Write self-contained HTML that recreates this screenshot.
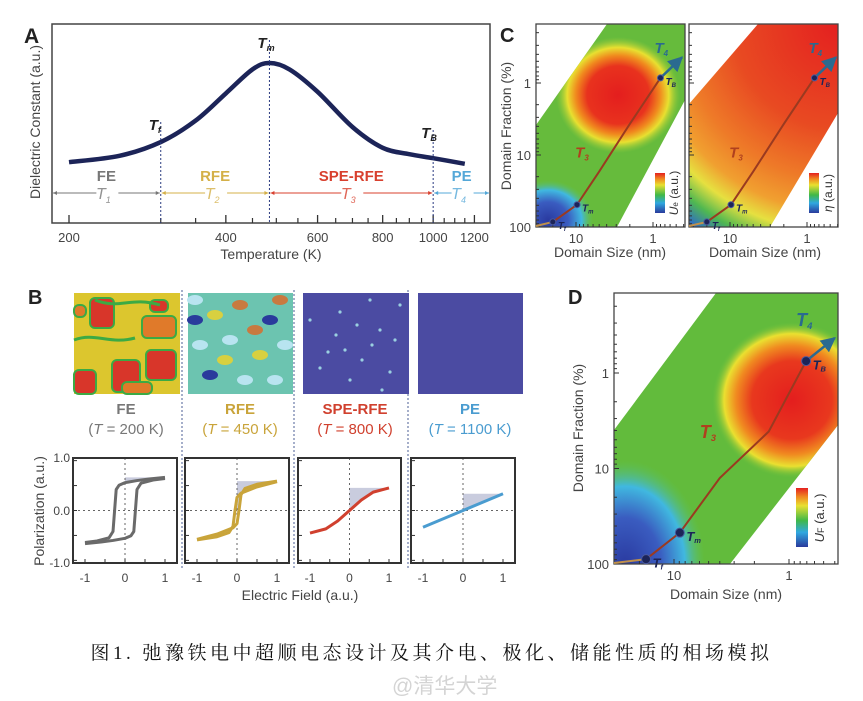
<!DOCTYPE html>
<html><head><meta charset="utf-8">
<style>
body{margin:0;background:#fff;width:863px;height:701px;overflow:hidden;position:relative;font-family:"Liberation Sans","Noto Sans CJK SC",sans-serif}
svg{position:absolute;left:0;top:0}
text{font-family:"Liberation Sans","Noto Sans CJK SC",sans-serif}
.cap{position:absolute;left:0;width:863px;top:638px;text-align:center;font-family:"Liberation Serif","Noto Serif CJK SC",serif;font-size:19px;letter-spacing:3.5px;color:#111}
.wm{position:absolute;left:392px;top:670px;font-size:21px;color:#d4d4d4;font-family:"Liberation Sans","Noto Sans CJK SC",sans-serif}
</style></head><body>
<svg id="fig" width="863" height="701" viewBox="0 0 863 701">
<defs>
<radialGradient id="gC1" cx="0.5" cy="0.5" r="0.5">
<stop offset="0" stop-color="#e41e1e"/><stop offset="0.5" stop-color="#e8321e"/><stop offset="0.68" stop-color="#f08a1e"/><stop offset="0.82" stop-color="#e8e030"/><stop offset="1" stop-color="#9acb3a" stop-opacity="0"/></radialGradient>
<radialGradient id="gBlue" cx="0.5" cy="0.5" r="0.5">
<stop offset="0" stop-color="#2a3aa0"/><stop offset="0.45" stop-color="#3a5cc0"/><stop offset="0.75" stop-color="#40b8e0"/><stop offset="1" stop-color="#5cc060" stop-opacity="0"/></radialGradient>
<radialGradient id="gC2" gradientUnits="userSpaceOnUse" cx="838" cy="24" r="260">
<stop offset="0" stop-color="#e42020"/><stop offset="0.4" stop-color="#e84a22"/><stop offset="0.6" stop-color="#ee7a28"/><stop offset="0.72" stop-color="#f0a030"/><stop offset="0.8" stop-color="#e6e040"/><stop offset="0.88" stop-color="#50b850"/><stop offset="0.95" stop-color="#3070c0"/><stop offset="1" stop-color="#2a3a9c"/></radialGradient>
<radialGradient id="gD" cx="0.5" cy="0.5" r="0.5">
<stop offset="0" stop-color="#e41e1e"/><stop offset="0.5" stop-color="#e8381e"/><stop offset="0.7" stop-color="#f08a20"/><stop offset="0.85" stop-color="#eae030"/><stop offset="1" stop-color="#6cbf3c" stop-opacity="0"/></radialGradient>
<linearGradient id="cbar" x1="0" y1="1" x2="0" y2="0">
<stop offset="0" stop-color="#2a3a9c"/><stop offset="0.25" stop-color="#30a8e0"/><stop offset="0.45" stop-color="#40b848"/><stop offset="0.7" stop-color="#e8e030"/><stop offset="0.85" stop-color="#f08a20"/><stop offset="1" stop-color="#e42020"/></linearGradient>
<clipPath id="clipC1"><polygon points="536,125 607,24 685,24 685,100 617,227 536,227"/></clipPath>
<clipPath id="clipC2"><polygon points="689,104 758,24 838,24 838,113 770,227 689,227"/></clipPath>
<clipPath id="clipD"><polygon points="614,430 716,293 838,293 838,425 730,564 614,564"/></clipPath>
<marker id="ah" viewBox="0 0 10 10" refX="9" refY="5" markerWidth="6" markerHeight="6" orient="auto"><path d="M0,0L10,5L0,10z" fill="#2a6a90"/></marker>
</defs>

<!-- PANEL A -->
<g>
<text x="24" y="43" font-size="21" font-weight="bold" fill="#222">A</text>
<rect x="52" y="24" width="438" height="199" fill="none" stroke="#444" stroke-width="1.5"/>
<g id="aTicks"></g>
<path id="aCurve" fill="none" stroke="#1c2458" stroke-width="4.5"/>
<g id="aLines"></g>
<text x="271" y="259" font-size="14" fill="#444" text-anchor="middle">Temperature (K)</text>
<text transform="translate(40,122) rotate(-90)" font-size="14" fill="#444" text-anchor="middle">Dielectric Constant (a.u.)</text>
</g>

<!-- PANEL B -->
<g>
<text x="28" y="304" font-size="20" font-weight="bold" fill="#222">B</text>
<g id="bSep"></g>
<g id="bImgs"></g>
<g id="bPlots"></g>
<text x="300" y="600" font-size="14" fill="#444" text-anchor="middle">Electric Field (a.u.)</text>
<text transform="translate(44,511) rotate(-90)" font-size="14" fill="#444" text-anchor="middle">Polarization (a.u.)</text>
</g>

<!-- PANEL C -->
<g>
<text x="500" y="42" font-size="20" font-weight="bold" fill="#222">C</text>
<g clip-path="url(#clipC1)">
<rect x="536" y="24" width="149" height="203" fill="#66bb3c"/>
<ellipse cx="618" cy="95" rx="62" ry="58" fill="url(#gC1)"/>
<ellipse cx="548" cy="220" rx="45" ry="40" fill="url(#gBlue)"/>
</g>
<g clip-path="url(#clipC2)">
<rect x="689" y="24" width="149" height="203" fill="url(#gC2)"/>
</g>
<rect x="536" y="24" width="149" height="203" fill="none" stroke="#444" stroke-width="1.3"/>
<rect x="689" y="24" width="149" height="203" fill="none" stroke="#444" stroke-width="1.3"/>
<rect x="655" y="173" width="10" height="40" fill="url(#cbar)"/>
<rect x="809" y="173" width="10" height="40" fill="url(#cbar)"/>
<text transform="translate(678,193) rotate(-90)" font-size="12" fill="#333" text-anchor="middle"><tspan font-style="italic">U</tspan><tspan font-size="8">e</tspan> (a.u.)</text>
<text transform="translate(832,193) rotate(-90)" font-size="12" fill="#333" text-anchor="middle"><tspan font-style="italic">η</tspan> (a.u.)</text>
<g id="cAxes"></g>
<text x="610" y="257" font-size="14" fill="#444" text-anchor="middle">Domain Size (nm)</text>
<text x="765" y="257" font-size="14" fill="#444" text-anchor="middle">Domain Size (nm)</text>
<text transform="translate(511,126) rotate(-90)" font-size="14" fill="#444" text-anchor="middle">Domain Fraction (%)</text>
</g>

<!-- PANEL D -->
<g>
<text x="568" y="304" font-size="20" font-weight="bold" fill="#222">D</text>
<g clip-path="url(#clipD)">
<rect x="614" y="293" width="224" height="271" fill="#62bb3c"/>
<ellipse cx="792" cy="400" rx="80" ry="78" fill="url(#gD)"/>
<ellipse cx="625" cy="565" rx="80" ry="105" fill="url(#gBlue)"/>
</g>
<rect x="614" y="293" width="224" height="271" fill="none" stroke="#444" stroke-width="1.3"/>
<rect x="796" y="488" width="12" height="59" fill="url(#cbar)"/>
<text transform="translate(824,518) rotate(-90)" font-size="13" fill="#333" text-anchor="middle"><tspan font-style="italic">U</tspan><tspan font-size="9">F</tspan> (a.u.)</text>
<g id="dAxes"></g>
<text x="726" y="599" font-size="14" fill="#444" text-anchor="middle">Domain Size (nm)</text>
<text transform="translate(583,428) rotate(-90)" font-size="14" fill="#444" text-anchor="middle">Domain Fraction (%)</text>
</g>
</svg>
<div class="cap">图1. 弛豫铁电中超顺电态设计及其介电、极化、储能性质的相场模拟</div>
<div class="wm">@清华大学</div>

<script>
// ---- Panel A data ----
const aTemps = [200,250,300,350,400,450,485,530,600,700,800,900,1000,1150];
const aDielectric = [38,42,50.6,64,81,96,100,96,82,60,47,43,40.5,37];
const aTickMajor = [200,400,600,800,1000,1200];
const aTickMinor = [300,350,450,500,550,650,700,750,850,900,950,1050,1100,1150];
const aPhaseTemps = [300,485,1000];
const aPhaseLabels = ['FE','RFE','SPE-RFE','PE'];
const aPhaseSubs = ['1','2','3','4'];
const aPhaseColors = ['#777777','#d4b048','#d8402e','#55a8d8'];
const aMarkNames = ['f','m','B'];
// ---- Panel B data ----
const bPanels = ['FE','RFE','SPE-RFE','PE'];
const bTempsK = [200,450,800,1100];
const bColors = ['#6a6a6a','#c9a43a','#d0402e','#4a9cd0'];
const feE = [1,0.6,0.3,0,-0.15,-0.22,-0.26,-0.3,-0.4,-0.7,-1];
const feP = [0.63,0.6,0.57,0.53,0.48,0.4,0,-0.4,-0.52,-0.58,-0.61];
const rfeE = [1,0.5,0.2,0.1,0.05,0,-0.1,-0.5,-1];
const rfeP = [0.56,0.5,0.42,0.3,0,-0.25,-0.33,-0.45,-0.55];
const speE = [-1,-0.6,-0.3,0,0.3,0.6,1];
const speP = [-0.43,-0.35,-0.2,0,0.2,0.35,0.43];
const peE = [-1,0,1];
const peP = [-0.32,0,0.32];
const bYTicks = ['1.0','0.0','-1.0'];
const bXTicks = ['-1','0','1'];
// ---- Panel C/D data (domain size nm, fraction %) ----
const cPathSize = [20,9.7,5,2,0.8,0.42];
const cPathFrac = [85,49,17,3.7,0.85,0.44];
const dPathSize = [17.5,8.9,4,1.5,0.71,0.4];
const dPathFrac = [89,47,12.6,4.1,0.75,0.43];
const logTickLabels = ['1','10','100'];

const NS='http://www.w3.org/2000/svg';
function mk(tag,attrs,parent,txt){const e=document.createElementNS(NS,tag);for(const k in attrs)e.setAttribute(k,attrs[k]);if(txt!==undefined)e.textContent=txt;parent.appendChild(e);return e;}

const ax=T=>69+521*Math.log10(T/200);
const ay=v=>223-v*1.6;
(function(){
 const g=document.getElementById('aTicks');
 aTickMajor.forEach(t=>{
  const l=mk('line',{x1:ax(t),x2:ax(t),y1:223,y2:215,stroke:'#333','stroke-width':1.3},g);
  
  
  const tx=mk('text',{x:ax(t),y:242,'font-size':13,fill:'#444','text-anchor':'middle'},g,String(t));
  
  
 });
 aTickMinor.forEach(t=>{
  const l=mk('line',{x1:ax(t),x2:ax(t),y1:223,y2:218,stroke:'#333','stroke-width':1.2},g);
  
  
 });
 const pts=aTemps.map((t,i)=>[ax(t),ay(aDielectric[i])]);
 let d='M'+pts[0][0]+','+pts[0][1];
 for(let i=0;i<pts.length-1;i++){
  const p0=pts[Math.max(0,i-1)],p1=pts[i],p2=pts[i+1],p3=pts[Math.min(pts.length-1,i+2)];
  d+=` C${p1[0]+(p2[0]-p0[0])/6},${p1[1]+(p2[1]-p0[1])/6} ${p2[0]-(p3[0]-p1[0])/6},${p2[1]-(p3[1]-p1[1])/6} ${p2[0]},${p2[1]}`;
 }
 document.getElementById('aCurve').setAttribute('d',d);
 const gl=document.getElementById('aLines');
 const tops=[122,40,130];
 aPhaseTemps.forEach((t,i)=>{
  const l=mk('line',{x1:ax(t),x2:ax(t),y1:tops[i],y2:223,stroke:'#2a3a80','stroke-width':1,'stroke-dasharray':'2,2'},gl);
  
  
  const tx=mk('text',{x:ax(t)-12,y:tops[i]+8,'font-size':15,'font-weight':'bold','font-style':'italic',fill:'#222'},gl);
  
  
  mk('tspan',{},tx,'T');mk('tspan',{'font-size':9,dy:3},tx,aMarkNames[i]);
 });
 const bounds=[ax(200)-17,ax(300),ax(485),ax(1000),490];
 for(let i=0;i<4;i++){
  const x1=bounds[i]+1,x2=bounds[i+1]-1,cx=(x1+x2)/2,c=aPhaseColors[i];
  const ln=mk('line',{x1:x1,x2:cx-10,y1:193,y2:193,stroke:c,'stroke-width':1},gl);
  
  
  mk('line',{x1:cx+12,x2:x2,y1:193,y2:193,stroke:c,'stroke-width':1},gl);
  mk('path',{d:`M${x1},193 l4,-2 v4z M${x2},193 l-4,-2 v4z`,fill:c},gl);
  const lb=mk('text',{x:cx,y:181,'font-size':15,'font-weight':'bold',fill:c,'text-anchor':'middle'},gl,aPhaseLabels[i]);
  
  
  const st=mk('text',{x:cx-3,y:199,'font-size':16,'font-style':'italic',fill:c,'text-anchor':'middle',opacity:0.8},gl);
  
  
  mk('tspan',{},st,'T');mk('tspan',{'font-size':9,dy:4},st,aPhaseSubs[i]);
 }
})();

(function(){
 const sep=document.getElementById('bSep');
 [182,294,408].forEach(x=>{
  const l=mk('line',{x1:x,x2:x,y1:290,y2:570,stroke:'#6a7aa8','stroke-width':1.2,'stroke-dasharray':'2,2'},sep);
  
  
 });
 const gi=document.getElementById('bImgs');
 const fe=mk('g',{},gi);
 
 
 mk('rect',{x:74,y:293,width:106,height:101,fill:'#dcc62e'},fe);
 [[90,298,24,30,'#d8362a'],[74,305,12,12,'#e07a2a'],[142,316,34,22,'#e07a2a'],[146,350,30,30,'#d8362a'],[74,370,22,24,'#d8362a'],[112,360,28,32,'#d8362a'],[150,300,18,12,'#d8362a'],[122,382,30,12,'#e07a2a']].forEach(r=>mk('rect',{x:r[0],y:r[1],width:r[2],height:r[3],rx:5,fill:r[4],stroke:'#3caa44','stroke-width':2},fe));
 mk('path',{d:'M74,340 C95,332 110,345 135,338 M95,300 C120,310 130,296 160,305',stroke:'#3caa44','stroke-width':3,fill:'none'},fe);
 const rf=mk('g',{},gi);
 
 
 mk('rect',{x:188,y:293,width:105,height:101,fill:'#6cc4b0'},rf);
 const spots=[[195,300],[215,315],[240,305],[270,320],[200,345],[230,340],[260,355],[280,300],[210,375],[245,380],[275,380],[225,360],[255,330],[195,320],[285,345]];
 spots.forEach((s,i)=>mk('ellipse',{cx:s[0],cy:s[1],rx:8,ry:5,fill:['#b8e4f0','#d8d040','#c87a40','#2a3a9c','#b8e4f0'][i%5]},rf));
 const sp=mk('g',{},gi);
 
 
 mk('rect',{x:303,y:293,width:106,height:101,fill:'#4b4ba2'},sp);
 [[310,320],[340,312],[357,325],[370,300],[328,352],[345,350],[362,360],[380,330],[395,340],[390,372],[320,368],[350,380],[372,345],[336,335],[400,305],[382,390]].forEach(s=>mk('circle',{cx:s[0],cy:s[1],r:1.6,fill:'#9ad0e0'},sp));
 const pe=mk('rect',{x:418,y:293,width:105,height:101,fill:'#4b4ba2'},gi);
 
 
 const labX=[126,240,355,470];
 bPanels.forEach((p,i)=>{
  const t=mk('text',{x:labX[i],y:414,'font-size':15,'font-weight':'bold',fill:i==0?'#777':bColors[i],'text-anchor':'middle'},gi,p);
  
  
  const t2=mk('text',{x:labX[i],y:434,'font-size':15,fill:i==0?'#777':bColors[i],'text-anchor':'middle'},gi);
  
  
  mk('tspan',{},t2,'(');mk('tspan',{'font-style':'italic'},t2,'T');mk('tspan',{},t2,' = '+bTempsK[i]+' K)');
 });
 const boxes=[[73,177],[185,289],[298,401],[411,515]];
 const series=[[feE,feP,true],[rfeE,rfeP,true],[speE,speP,false],[peE,peP,false]];
 const gp=document.getElementById('bPlots');
 boxes.forEach((b,i)=>{
  const x0=b[0],x1=b[1];
  const sx=e=>x0+12+(e+1)/2*(x1-x0-24);
  const sy=p=>510.5-p*52.5;
  const g=mk('g',{},gp);
  
  
  const [E,P,loop]=series[i];
  let pmax=Math.max(...P);
  let sh=`M${sx(0)},${sy(pmax)} L${sx(1)},${sy(pmax)}`;
  const idx=E.map((e,k)=>k).filter(k=>E[k]>=0).sort((a,b)=>E[b]-E[a]);
  idx.forEach(k=>sh+=` L${sx(E[k])},${sy(P[k])}`);
  const shade=mk('path',{d:sh+'Z',fill:'#c9ccde'},g);
  
  
  mk('line',{x1:x0,x2:x1,y1:sy(0),y2:sy(0),stroke:'#666','stroke-width':1,'stroke-dasharray':'2,3'},g);
  mk('line',{x1:sx(0),x2:sx(0),y1:458,y2:563,stroke:'#666','stroke-width':1,'stroke-dasharray':'2,3'},g);
  const mkPath=(ee,pp)=>ee.map((e,k)=>(k?'L':'M')+sx(e)+','+sy(pp[k])).join(' ');
  const c1=mk('path',{d:mkPath(E,P),fill:'none',stroke:bColors[i],'stroke-width':3,'stroke-linejoin':'round'},g);
  
  
  if(loop){
   const c2=mk('path',{d:mkPath(E.map(e=>-e),P.map(p=>-p)),fill:'none',stroke:bColors[i],'stroke-width':3,'stroke-linejoin':'round'},g);
   
   
  }
  mk('rect',{x:x0,y:458,width:x1-x0,height:105,fill:'none',stroke:'#333','stroke-width':2},g);
  [-1,-0.5,0,0.5,1].forEach(v=>{mk('line',{x1:x0,x2:x0+4,y1:sy(v*0.95),y2:sy(v*0.95),stroke:'#333'},g);mk('line',{x1:sx(v),x2:sx(v),y1:563,y2:559,stroke:'#333'},g);});
  bXTicks.forEach((t,k)=>{
   const tx=mk('text',{x:sx(k-1),y:582,'font-size':12,fill:'#444','text-anchor':'middle'},g,t);
   
   
  });
  if(i==0){
   bYTicks.forEach((t,k)=>{
    const tx=mk('text',{x:x0-3,y:[462,515,567][k],'font-size':12,fill:'#444','text-anchor':'end'},g,t);
    
    
   });
  }
 });
})();

function drawPanel(gid,box,xTen,xOne,yOne,yHund,sizes,fracs,showY,labs,t3off,t4off){
 const g=document.getElementById(gid);
 const sx=s=>xTen+(xOne-xTen)*(1-Math.log10(s));
 const sy=f=>yOne+(yHund-yOne)*Math.log10(f)/2;
 [1,10].forEach((d,k)=>{
  const t=mk('text',{x:sx(d),y:box[3]+16,'font-size':13,fill:'#444','text-anchor':'middle'},g,k?'10':'1');
  
  
 });
 for(let d of [0.1,1,10])for(let m=1;m<10;m++){const xx=sx(d*m);if(xx>box[0]&&xx<box[2])mk('line',{x1:xx,x2:xx,y1:box[3],y2:box[3]-(m==1?5:3),stroke:'#333'},g);}
 if(showY){
  logTickLabels.forEach(l=>{
   const t=mk('text',{x:box[0]-5,y:sy(+l)+5,'font-size':13,fill:'#444','text-anchor':'end'},g,l);
   
   
  });
 }
 for(let d of [0.1,1,10])for(let m=1;m<10;m++){const yy=sy(d*m);if(yy>box[1]&&yy<box[3])mk('line',{x1:box[0],x2:box[0]+(m==1?5:3),y1:yy,y2:yy,stroke:'#333'},g);}
 const pts=sizes.map((s,i)=>[sx(s),sy(fracs[i])]);
 const n=pts.length;
 const lead=mk('path',{d:`M${box[0]},${box[3]-1} L${pts[0][0]},${pts[0][1]}`,fill:'none',stroke:'#c0904a','stroke-width':2},g);
 
 
 const pth=mk('path',{d:pts.slice(0,-1).map((p,i)=>(i?'L':'M')+p[0]+','+p[1]).join(' '),fill:'none',stroke:'#9a3a20','stroke-width':2},g);
 
 
 const ar=mk('line',{x1:pts[n-2][0],y1:pts[n-2][1],x2:pts[n-1][0],y2:pts[n-1][1],stroke:'#2a6a90','stroke-width':2.5,'marker-end':'url(#ah)'},g);
 
 
 [[pts[0],'T','f'],[pts[1],'T','m'],[pts[n-2],'T','B']].forEach(q=>{
  const c=mk('circle',{cx:q[0][0],cy:q[0][1],r:labs,fill:'#1c2458',stroke:'#4a5aa0'},g);
  
  
  const t=mk('text',{x:q[0][0]+labs+2,y:q[0][1]+labs+4,'font-size':labs*2+4,'font-style':'italic','font-weight':'bold',fill:'#1c2458'},g);
  
  
  mk('tspan',{},t,q[1]);mk('tspan',{'font-size':labs+3,dy:2},t,q[2]);
 });
 const mid=pts[2];
 const t3=mk('text',{x:mid[0]+t3off[0],y:mid[1]+t3off[1],'font-size':labs*2+9,'font-style':'italic','font-weight':'bold',fill:'#b0401e'},g);
 
 
 mk('tspan',{},t3,'T');mk('tspan',{'font-size':labs+5,dy:3},t3,'3');
 const tb=pts[n-2];
 const t4=mk('text',{x:tb[0]+t4off[0],y:tb[1]+t4off[1],'font-size':labs*2+9,'font-style':'italic','font-weight':'bold',fill:'#2a6a90'},g);
 
 
 mk('tspan',{},t4,'T');mk('tspan',{'font-size':labs+5,dy:3},t4,'4');
}
drawPanel('cAxes',[536,24,685,227],576,653,83,227,cPathSize,cPathFrac,true,3,[-24,-14],[-6,-25]);
drawPanel('cAxes',[689,24,838,227],730,807,83,227,cPathSize,cPathFrac,false,3,[-24,-14],[-6,-25]);
drawPanel('dAxes',[614,293,838,564],674,789,373,564,dPathSize,dPathFrac,true,4.5,[-20,-40],[-10,-35]);
</script>
</body></html>
